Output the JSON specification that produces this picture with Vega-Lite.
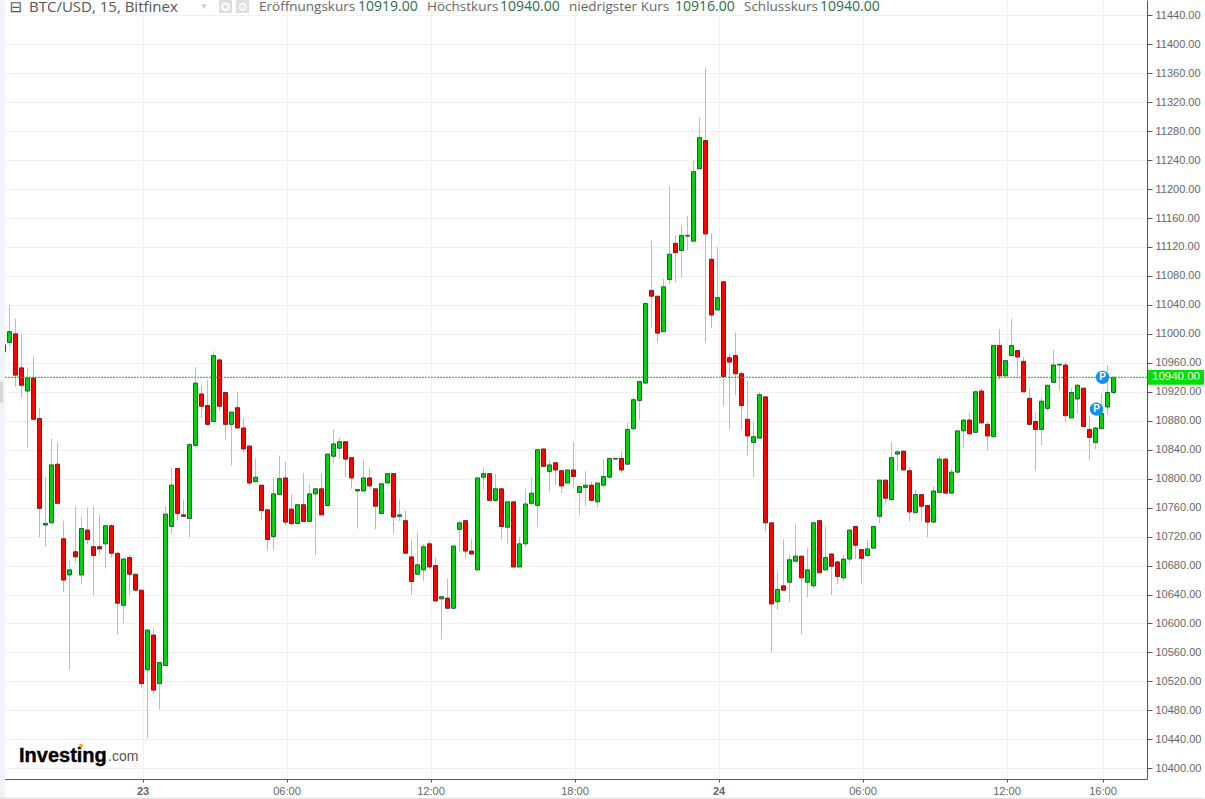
{
"$schema":"https://vega.github.io/schema/vega-lite/v6.json",
"width":1147,"height":779,"autosize":{"type":"none"},"padding":{"left":0,"top":0,"right":58,"bottom":20},"background":"#ffffff",
"config":{"view":{"stroke":null},"font":"Liberation Sans","scale":{"continuousPadding":0}},
"data":{"values":[{}]},
"datasets":{"candles":[
{"t":"2019-06-22T18:15","o":10975,"h":10985,"l":10975,"c":10985},
{"t":"2019-06-22T18:30","o":10988,"h":11040,"l":10982,"c":11003},
{"t":"2019-06-22T18:45","o":11000,"h":11021,"l":10927,"c":10943},
{"t":"2019-06-22T19:00","o":10953,"h":10999,"l":10912,"c":10929},
{"t":"2019-06-22T19:15","o":10921,"h":10953,"l":10842,"c":10939},
{"t":"2019-06-22T19:30","o":10939,"h":10969,"l":10882,"c":10882},
{"t":"2019-06-22T19:45","o":10883,"h":10898,"l":10719,"c":10759},
{"t":"2019-06-22T20:00","o":10736,"h":10803,"l":10706,"c":10738},
{"t":"2019-06-22T20:15","o":10739,"h":10855,"l":10739,"c":10819},
{"t":"2019-06-22T20:30","o":10820,"h":10851,"l":10766,"c":10766},
{"t":"2019-06-22T20:45","o":10717,"h":10742,"l":10644,"c":10660},
{"t":"2019-06-22T21:00","o":10667,"h":10687,"l":10536,"c":10674},
{"t":"2019-06-22T21:15","o":10699,"h":10762,"l":10683,"c":10692},
{"t":"2019-06-22T21:30","o":10667,"h":10748,"l":10654,"c":10731},
{"t":"2019-06-22T21:45","o":10729,"h":10760,"l":10709,"c":10716},
{"t":"2019-06-22T22:00","o":10706,"h":10762,"l":10639,"c":10694},
{"t":"2019-06-22T22:15","o":10706,"h":10750,"l":10695,"c":10703},
{"t":"2019-06-22T22:30","o":10710,"h":10735,"l":10676,"c":10735},
{"t":"2019-06-22T22:45","o":10735,"h":10738,"l":10691,"c":10697},
{"t":"2019-06-22T23:00","o":10697,"h":10697,"l":10585,"c":10628},
{"t":"2019-06-22T23:15","o":10625,"h":10691,"l":10600,"c":10689},
{"t":"2019-06-22T23:30","o":10691,"h":10695,"l":10639,"c":10668},
{"t":"2019-06-22T23:45","o":10668,"h":10668,"l":10644,"c":10646},
{"t":"2019-06-23T00:00","o":10646,"h":10646,"l":10511,"c":10517},
{"t":"2019-06-23T00:15","o":10536,"h":10591,"l":10442,"c":10591},
{"t":"2019-06-23T00:30","o":10584,"h":10593,"l":10502,"c":10508},
{"t":"2019-06-23T00:45","o":10517,"h":10546,"l":10481,"c":10546},
{"t":"2019-06-23T01:00","o":10542,"h":10762,"l":10542,"c":10751},
{"t":"2019-06-23T01:15","o":10734,"h":10815,"l":10724,"c":10791},
{"t":"2019-06-23T01:30","o":10814,"h":10814,"l":10742,"c":10752},
{"t":"2019-06-23T01:45","o":10750,"h":10771,"l":10748,"c":10748},
{"t":"2019-06-23T02:00","o":10745,"h":10849,"l":10719,"c":10847},
{"t":"2019-06-23T02:15","o":10846,"h":10954,"l":10846,"c":10932},
{"t":"2019-06-23T02:30","o":10917,"h":10929,"l":10884,"c":10900},
{"t":"2019-06-23T02:45","o":10901,"h":10936,"l":10875,"c":10875},
{"t":"2019-06-23T03:00","o":10879,"h":10976,"l":10879,"c":10970},
{"t":"2019-06-23T03:15","o":10964,"h":10966,"l":10893,"c":10900},
{"t":"2019-06-23T03:30","o":10919,"h":10919,"l":10854,"c":10875},
{"t":"2019-06-23T03:45","o":10875,"h":10892,"l":10818,"c":10892},
{"t":"2019-06-23T04:00","o":10898,"h":10920,"l":10870,"c":10870},
{"t":"2019-06-23T04:15","o":10870,"h":10884,"l":10837,"c":10841},
{"t":"2019-06-23T04:30","o":10845,"h":10847,"l":10790,"c":10794},
{"t":"2019-06-23T04:45","o":10796,"h":10828,"l":10796,"c":10802},
{"t":"2019-06-23T05:00","o":10791,"h":10791,"l":10742,"c":10756},
{"t":"2019-06-23T05:15","o":10757,"h":10757,"l":10701,"c":10716},
{"t":"2019-06-23T05:30","o":10720,"h":10802,"l":10701,"c":10779},
{"t":"2019-06-23T05:45","o":10778,"h":10832,"l":10778,"c":10800},
{"t":"2019-06-23T06:00","o":10801,"h":10824,"l":10735,"c":10740},
{"t":"2019-06-23T06:15","o":10758,"h":10778,"l":10735,"c":10738},
{"t":"2019-06-23T06:30","o":10738,"h":10764,"l":10738,"c":10764},
{"t":"2019-06-23T06:45","o":10764,"h":10808,"l":10741,"c":10741},
{"t":"2019-06-23T07:00","o":10741,"h":10793,"l":10741,"c":10779},
{"t":"2019-06-23T07:15","o":10779,"h":10786,"l":10694,"c":10786},
{"t":"2019-06-23T07:30","o":10786,"h":10807,"l":10750,"c":10750},
{"t":"2019-06-23T07:45","o":10763,"h":10834,"l":10763,"c":10834},
{"t":"2019-06-23T08:00","o":10831,"h":10868,"l":10821,"c":10848},
{"t":"2019-06-23T08:15","o":10842,"h":10857,"l":10828,"c":10851},
{"t":"2019-06-23T08:30","o":10851,"h":10851,"l":10802,"c":10827},
{"t":"2019-06-23T08:45","o":10829,"h":10829,"l":10786,"c":10801},
{"t":"2019-06-23T09:00","o":10783,"h":10786,"l":10731,"c":10785},
{"t":"2019-06-23T09:15","o":10783,"h":10826,"l":10783,"c":10801},
{"t":"2019-06-23T09:30","o":10801,"h":10815,"l":10786,"c":10790},
{"t":"2019-06-23T09:45","o":10786,"h":10786,"l":10730,"c":10762},
{"t":"2019-06-23T10:00","o":10752,"h":10793,"l":10752,"c":10793},
{"t":"2019-06-23T10:15","o":10794,"h":10807,"l":10794,"c":10807},
{"t":"2019-06-23T10:30","o":10807,"h":10807,"l":10724,"c":10747},
{"t":"2019-06-23T10:45","o":10748,"h":10771,"l":10741,"c":10750},
{"t":"2019-06-23T11:00","o":10742,"h":10756,"l":10697,"c":10697},
{"t":"2019-06-23T11:15","o":10692,"h":10715,"l":10639,"c":10658},
{"t":"2019-06-23T11:30","o":10668,"h":10727,"l":10668,"c":10681},
{"t":"2019-06-23T11:45","o":10674,"h":10710,"l":10659,"c":10706},
{"t":"2019-06-23T12:00","o":10710,"h":10715,"l":10675,"c":10678},
{"t":"2019-06-23T12:15","o":10680,"h":10691,"l":10631,"c":10631},
{"t":"2019-06-23T12:30","o":10634,"h":10637,"l":10578,"c":10637},
{"t":"2019-06-23T12:45","o":10635,"h":10662,"l":10621,"c":10621},
{"t":"2019-06-23T13:00","o":10621,"h":10707,"l":10621,"c":10707},
{"t":"2019-06-23T13:15","o":10730,"h":10742,"l":10699,"c":10739},
{"t":"2019-06-23T13:30","o":10742,"h":10742,"l":10690,"c":10700},
{"t":"2019-06-23T13:45","o":10700,"h":10717,"l":10694,"c":10696},
{"t":"2019-06-23T14:00","o":10674,"h":10801,"l":10674,"c":10801},
{"t":"2019-06-23T14:15","o":10802,"h":10815,"l":10785,"c":10807},
{"t":"2019-06-23T14:30","o":10807,"h":10807,"l":10770,"c":10770},
{"t":"2019-06-23T14:45","o":10770,"h":10807,"l":10768,"c":10786},
{"t":"2019-06-23T15:00","o":10786,"h":10788,"l":10715,"c":10734},
{"t":"2019-06-23T15:15","o":10733,"h":10768,"l":10710,"c":10768},
{"t":"2019-06-23T15:30","o":10768,"h":10768,"l":10678,"c":10678},
{"t":"2019-06-23T15:45","o":10678,"h":10720,"l":10678,"c":10710},
{"t":"2019-06-23T16:00","o":10710,"h":10786,"l":10706,"c":10765},
{"t":"2019-06-23T16:15","o":10766,"h":10802,"l":10763,"c":10780},
{"t":"2019-06-23T16:30","o":10763,"h":10840,"l":10733,"c":10840},
{"t":"2019-06-23T16:45","o":10841,"h":10841,"l":10817,"c":10817},
{"t":"2019-06-23T17:00","o":10810,"h":10826,"l":10782,"c":10819},
{"t":"2019-06-23T17:15","o":10822,"h":10822,"l":10791,"c":10812},
{"t":"2019-06-23T17:30","o":10811,"h":10812,"l":10780,"c":10790},
{"t":"2019-06-23T17:45","o":10794,"h":10812,"l":10794,"c":10812},
{"t":"2019-06-23T18:00","o":10812,"h":10851,"l":10786,"c":10803},
{"t":"2019-06-23T18:15","o":10781,"h":10789,"l":10749,"c":10789},
{"t":"2019-06-23T18:30","o":10788,"h":10811,"l":10762,"c":10791},
{"t":"2019-06-23T18:45","o":10791,"h":10796,"l":10770,"c":10770},
{"t":"2019-06-23T19:00","o":10768,"h":10794,"l":10760,"c":10794},
{"t":"2019-06-23T19:15","o":10791,"h":10827,"l":10788,"c":10803},
{"t":"2019-06-23T19:30","o":10802,"h":10828,"l":10800,"c":10828},
{"t":"2019-06-23T19:45","o":10827,"h":10828,"l":10827,"c":10828},
{"t":"2019-06-23T20:00","o":10828,"h":10838,"l":10808,"c":10812},
{"t":"2019-06-23T20:15","o":10820,"h":10878,"l":10820,"c":10868},
{"t":"2019-06-23T20:30","o":10869,"h":10912,"l":10867,"c":10909},
{"t":"2019-06-23T20:45","o":10908,"h":10934,"l":10881,"c":10934},
{"t":"2019-06-23T21:00","o":10932,"h":11042,"l":10932,"c":11042},
{"t":"2019-06-23T21:15","o":11060,"h":11129,"l":11009,"c":11052},
{"t":"2019-06-23T21:30","o":11052,"h":11052,"l":10988,"c":11001},
{"t":"2019-06-23T21:45","o":11003,"h":11076,"l":11003,"c":11065},
{"t":"2019-06-23T22:00","o":11075,"h":11205,"l":11069,"c":11110},
{"t":"2019-06-23T22:15","o":11125,"h":11136,"l":11071,"c":11112},
{"t":"2019-06-23T22:30","o":11115,"h":11150,"l":11078,"c":11136},
{"t":"2019-06-23T22:45","o":11135,"h":11163,"l":11115,"c":11136},
{"t":"2019-06-23T23:00","o":11128,"h":11239,"l":11128,"c":11224},
{"t":"2019-06-23T23:15","o":11228,"h":11299,"l":11228,"c":11271},
{"t":"2019-06-23T23:30","o":11267,"h":11368,"l":10988,"c":11138},
{"t":"2019-06-23T23:45","o":11103,"h":11139,"l":11008,"c":11026},
{"t":"2019-06-24T00:00","o":11033,"h":11120,"l":11033,"c":11050},
{"t":"2019-06-24T00:15","o":11072,"h":11072,"l":10900,"c":10941},
{"t":"2019-06-24T00:30","o":10967,"h":10973,"l":10868,"c":10961},
{"t":"2019-06-24T00:45","o":10970,"h":11002,"l":10915,"c":10945},
{"t":"2019-06-24T01:00","o":10945,"h":10948,"l":10867,"c":10901},
{"t":"2019-06-24T01:15","o":10882,"h":10935,"l":10832,"c":10859},
{"t":"2019-06-24T01:30","o":10850,"h":10879,"l":10802,"c":10858},
{"t":"2019-06-24T01:45","o":10856,"h":10920,"l":10856,"c":10916},
{"t":"2019-06-24T02:00","o":10913,"h":10913,"l":10727,"c":10739},
{"t":"2019-06-24T02:15","o":10739,"h":10739,"l":10560,"c":10627},
{"t":"2019-06-24T02:30","o":10630,"h":10672,"l":10619,"c":10647},
{"t":"2019-06-24T02:45","o":10652,"h":10716,"l":10646,"c":10646},
{"t":"2019-06-24T03:00","o":10657,"h":10695,"l":10630,"c":10688},
{"t":"2019-06-24T03:15","o":10686,"h":10737,"l":10684,"c":10693},
{"t":"2019-06-24T03:30","o":10693,"h":10693,"l":10585,"c":10663},
{"t":"2019-06-24T03:45","o":10657,"h":10705,"l":10636,"c":10674},
{"t":"2019-06-24T04:00","o":10652,"h":10741,"l":10648,"c":10739},
{"t":"2019-06-24T04:15","o":10742,"h":10742,"l":10670,"c":10670},
{"t":"2019-06-24T04:30","o":10674,"h":10734,"l":10674,"c":10691},
{"t":"2019-06-24T04:45","o":10696,"h":10696,"l":10639,"c":10679},
{"t":"2019-06-24T05:00","o":10685,"h":10687,"l":10654,"c":10665},
{"t":"2019-06-24T05:15","o":10663,"h":10695,"l":10659,"c":10689},
{"t":"2019-06-24T05:30","o":10689,"h":10729,"l":10683,"c":10729},
{"t":"2019-06-24T05:45","o":10734,"h":10734,"l":10689,"c":10708},
{"t":"2019-06-24T06:00","o":10702,"h":10702,"l":10655,"c":10690},
{"t":"2019-06-24T06:15","o":10694,"h":10716,"l":10691,"c":10703},
{"t":"2019-06-24T06:30","o":10704,"h":10734,"l":10704,"c":10734},
{"t":"2019-06-24T06:45","o":10748,"h":10798,"l":10738,"c":10798},
{"t":"2019-06-24T07:00","o":10798,"h":10798,"l":10766,"c":10773},
{"t":"2019-06-24T07:15","o":10771,"h":10851,"l":10771,"c":10829},
{"t":"2019-06-24T07:30","o":10834,"h":10839,"l":10810,"c":10837},
{"t":"2019-06-24T07:45","o":10838,"h":10838,"l":10812,"c":10812},
{"t":"2019-06-24T08:00","o":10811,"h":10816,"l":10741,"c":10754},
{"t":"2019-06-24T08:15","o":10753,"h":10785,"l":10753,"c":10778},
{"t":"2019-06-24T08:30","o":10778,"h":10779,"l":10741,"c":10762},
{"t":"2019-06-24T08:45","o":10763,"h":10763,"l":10719,"c":10740},
{"t":"2019-06-24T09:00","o":10740,"h":10789,"l":10740,"c":10783},
{"t":"2019-06-24T09:15","o":10781,"h":10832,"l":10781,"c":10827},
{"t":"2019-06-24T09:30","o":10827,"h":10830,"l":10780,"c":10780},
{"t":"2019-06-24T09:45","o":10780,"h":10814,"l":10780,"c":10809},
{"t":"2019-06-24T10:00","o":10809,"h":10866,"l":10809,"c":10866},
{"t":"2019-06-24T10:15","o":10866,"h":10881,"l":10843,"c":10881},
{"t":"2019-06-24T10:30","o":10881,"h":10891,"l":10860,"c":10862},
{"t":"2019-06-24T10:45","o":10864,"h":10920,"l":10864,"c":10920},
{"t":"2019-06-24T11:00","o":10921,"h":10925,"l":10877,"c":10877},
{"t":"2019-06-24T11:15","o":10875,"h":10879,"l":10839,"c":10859},
{"t":"2019-06-24T11:30","o":10858,"h":10984,"l":10858,"c":10984},
{"t":"2019-06-24T11:45","o":10984,"h":11007,"l":10936,"c":10942},
{"t":"2019-06-24T12:00","o":10942,"h":10965,"l":10942,"c":10963},
{"t":"2019-06-24T12:15","o":10970,"h":11021,"l":10970,"c":10984},
{"t":"2019-06-24T12:30","o":10977,"h":10977,"l":10940,"c":10968},
{"t":"2019-06-24T12:45","o":10962,"h":10968,"l":10920,"c":10920},
{"t":"2019-06-24T13:00","o":10911,"h":10926,"l":10875,"c":10875},
{"t":"2019-06-24T13:15","o":10879,"h":10892,"l":10811,"c":10868},
{"t":"2019-06-24T13:30","o":10868,"h":10914,"l":10846,"c":10907},
{"t":"2019-06-24T13:45","o":10897,"h":10929,"l":10893,"c":10929},
{"t":"2019-06-24T14:00","o":10933,"h":10978,"l":10933,"c":10957},
{"t":"2019-06-24T14:15","o":10957,"h":10958,"l":10922,"c":10958},
{"t":"2019-06-24T14:30","o":10957,"h":10961,"l":10878,"c":10887},
{"t":"2019-06-24T14:45","o":10884,"h":10925,"l":10884,"c":10919},
{"t":"2019-06-24T15:00","o":10910,"h":10931,"l":10889,"c":10929},
{"t":"2019-06-24T15:15","o":10925,"h":10925,"l":10872,"c":10872},
{"t":"2019-06-24T15:30","o":10868,"h":10887,"l":10826,"c":10857},
{"t":"2019-06-24T15:45","o":10850,"h":10872,"l":10841,"c":10870},
{"t":"2019-06-24T16:00","o":10869,"h":10918,"l":10869,"c":10890},
{"t":"2019-06-24T16:15","o":10899,"h":10957,"l":10888,"c":10919},
{"t":"2019-06-24T16:30","o":10919,"h":10940,"l":10916,"c":10940}
],"pins":[{"t":"2019-06-24T16:00","p":10940,"m":"P"},{"t":"2019-06-24T15:45","p":10896,"m":"P"}]},
"layer":[
{"data":{"name":"candles"},"mark":{"type":"rule","strokeWidth":1,"xOffset":-1},
 "encoding":{"x":{"field":"t","type":"temporal","scale":{"domain":["2019-06-22T18:03:45","2019-06-24T17:51:15"],"nice":false},"title":null,
  "axis":{"orient":"bottom","tickCount":100,"values":[{"year":2019,"month":6,"date":23,"hours":0},{"year":2019,"month":6,"date":23,"hours":6},{"year":2019,"month":6,"date":23,"hours":12},{"year":2019,"month":6,"date":23,"hours":18},{"year":2019,"month":6,"date":24,"hours":0},{"year":2019,"month":6,"date":24,"hours":6},{"year":2019,"month":6,"date":24,"hours":12},{"year":2019,"month":6,"date":24,"hours":16}],
   "labelExpr":"hours(datum.value)==0 ? timeFormat(datum.value,'%d') : timeFormat(datum.value,'%H:%M')",
   "labelFontWeight":{"condition":{"test":"hours(datum.value)==0","value":"bold"},"value":"normal"},
   "grid":true,"gridColor":"#f1f1f1","gridWidth":1,"domainColor":"#555555","tickColor":"#555555","tickSize":3,"labelColor":"#666666","labelFontSize":11,"labelFont":"Liberation Sans","labelPadding":3,"title":null,"labelOverlap":false}},
  "y":{"field":"l","type":"quantitative","scale":{"domain":[10385.2,11461.1],"nice":false,"zero":false},"title":null,
  "axis":{"orient":"right","tickCount":100,"values":[10400,10440,10480,10520,10560,10600,10640,10680,10720,10760,10800,10840,10880,10920,10960,11000,11040,11080,11120,11160,11200,11240,11280,11320,11360,11400,11440],"format":".2f","grid":true,"gridColor":"#f1f1f1","gridWidth":1,"domainColor":"#555555","tickColor":"#555555","tickSize":5,"labelColor":"#666666","labelFontSize":11,"labelFont":"Liberation Sans","labelPadding":3,"title":null,"labelOverlap":false}},
  "y2":{"field":"h"},
  "color":{"condition":{"test":"datum.c>=datum.o","value":"#a9c7cb"},"value":"#e9a6b2"}}},
{"data":{"name":"candles"},"mark":{"type":"bar","orient":"vertical","size":4,"strokeWidth":1,"xOffset":-1},
 "encoding":{"x":{"field":"t","type":"temporal","scale":{"domain":["2019-06-22T18:03:45","2019-06-24T17:51:15"],"nice":false}},"y":{"field":"o","type":"quantitative","scale":{"domain":[10385.2,11461.1],"nice":false,"zero":false}},"y2":{"field":"c"},
  "fill":{"condition":{"test":"datum.c>=datum.o","value":"#00d30b"},"value":"#ff0000"},
  "stroke":{"condition":{"test":"datum.c>=datum.o","value":"#215a3c"},"value":"#6e1f1f"}}},
{"mark":{"type":"rule","color":"#14b814","strokeWidth":1,"strokeDash":[2,1]},"encoding":{"y":{"datum":10940,"scale":{"domain":[10385.2,11461.1],"nice":false,"zero":false}}}},
{"data":{"name":"pins"},"mark":{"type":"point","filled":true,"shape":"circle","size":177,"color":"#0d91f5","opacity":1},
 "encoding":{"x":{"field":"t","type":"temporal","scale":{"domain":["2019-06-22T18:03:45","2019-06-24T17:51:15"],"nice":false}},"y":{"field":"p","type":"quantitative","scale":{"domain":[10385.2,11461.1],"nice":false,"zero":false}}}},
{"data":{"name":"pins"},"mark":{"type":"text","color":"#ffffff","fontWeight":"bold","fontSize":10,"font":"Liberation Sans"},
 "encoding":{"x":{"field":"t","type":"temporal","scale":{"domain":["2019-06-22T18:03:45","2019-06-24T17:51:15"],"nice":false}},"y":{"field":"p","type":"quantitative","scale":{"domain":[10385.2,11461.1],"nice":false,"zero":false}},"text":{"field":"m"}}},
{"mark":{"type":"rect","color":"#00e000"},"encoding":{"x":{"datum":{"year":2019,"month":6,"date":24,"hours":17,"minutes":53,"seconds":45},"type":"temporal","scale":{"domain":["2019-06-22T18:03:45","2019-06-24T17:51:15"],"nice":false}},"x2":{"datum":{"year":2019,"month":6,"date":24,"hours":20,"minutes":13,"seconds":45}},"y":{"datum":10950,"scale":{"domain":[10385.2,11461.1],"nice":false,"zero":false}},"y2":{"datum":10929.6}}},
{"mark":{"type":"text","color":"#ffffff","fontSize":11.5,"font":"Liberation Sans"},"encoding":{"x":{"datum":{"year":2019,"month":6,"date":24,"hours":19,"minutes":3,"seconds":45},"type":"temporal","scale":{"domain":["2019-06-22T18:03:45","2019-06-24T17:51:15"],"nice":false}},"y":{"datum":10940,"scale":{"domain":[10385.2,11461.1],"nice":false,"zero":false}},"text":{"value":"10940.00"}}},
{"mark":{"type":"rect","color":"#f0f3fa"},"encoding":{"x":{"datum":{"year":2019,"month":6,"date":22,"hours":18,"minutes":3,"seconds":45},"type":"temporal","scale":{"domain":["2019-06-22T18:03:45","2019-06-24T17:51:15"],"nice":false}},"x2":{"datum":{"year":2019,"month":6,"date":22,"hours":18,"minutes":16,"seconds":15}},"y":{"datum":11461,"scale":{"domain":[10385.2,11461.1],"nice":false,"zero":false}},"y2":{"datum":10357}}},
{"mark":{"type":"rule","color":"#dddddd","strokeWidth":1},"encoding":{"x":{"datum":{"year":2019,"month":6,"date":22,"hours":18,"minutes":3,"seconds":45},"type":"temporal","scale":{"domain":["2019-06-22T18:03:45","2019-06-24T17:51:15"],"nice":false}},"x2":{"datum":{"year":2019,"month":6,"date":24,"hours":20,"minutes":13,"seconds":45}},"y":{"datum":10358.5,"scale":{"domain":[10385.2,11461.1],"nice":false,"zero":false}}}},
{"mark":{"type":"rule","color":"#d5d5d5","strokeWidth":3},"encoding":{"x":{"datum":{"year":2019,"month":6,"date":22,"hours":18,"minutes":7,"seconds":30},"type":"temporal","scale":{"domain":["2019-06-22T18:03:45","2019-06-24T17:51:15"],"nice":false}},"y":{"datum":10934,"scale":{"domain":[10385.2,11461.1],"nice":false,"zero":false}},"y2":{"datum":10905}}},
{"mark":{"type":"text","align":"center","color":"#555555","fontSize":15,"font":"DejaVu Sans"},"encoding":{"x":{"datum":{"year":2019,"month":6,"date":22,"hours":18,"minutes":43,"seconds":45},"type":"temporal","scale":{"domain":["2019-06-22T18:03:45","2019-06-24T17:51:15"],"nice":false}},"y":{"datum":11451,"scale":{"domain":[10385.2,11461.1],"nice":false,"zero":false}},"text":{"value":"⊟"}}},
{"mark":{"type":"text","align":"left","color":"#555555","fontSize":15,"font":"Open Sans","letterSpacing":1.3},"encoding":{"x":{"datum":{"year":2019,"month":6,"date":22,"hours":19,"minutes":16,"seconds":15},"type":"temporal","scale":{"domain":["2019-06-22T18:03:45","2019-06-24T17:51:15"],"nice":false}},"y":{"datum":11451,"scale":{"domain":[10385.2,11461.1],"nice":false,"zero":false}},"text":{"value":"BTC/USD, 15, Bitfinex"}}},
{"mark":{"type":"point","shape":"triangle-down","filled":true,"color":"#cccccc","size":30,"opacity":1},"encoding":{"x":{"datum":{"year":2019,"month":6,"date":23,"hours":2,"minutes":33,"seconds":45},"type":"temporal","scale":{"domain":["2019-06-22T18:03:45","2019-06-24T17:51:15"],"nice":false}},"y":{"datum":11452,"scale":{"domain":[10385.2,11461.1],"nice":false,"zero":false}}}},
{"mark":{"type":"point","shape":"square","filled":true,"color":"#dddddd","size":169,"opacity":1},"encoding":{"x":{"datum":{"year":2019,"month":6,"date":23,"hours":3,"minutes":27,"seconds":30},"type":"temporal","scale":{"domain":["2019-06-22T18:03:45","2019-06-24T17:51:15"],"nice":false}},"y":{"datum":11452,"scale":{"domain":[10385.2,11461.1],"nice":false,"zero":false}}}},
{"mark":{"type":"point","shape":"square","filled":true,"color":"#dddddd","size":169,"opacity":1},"encoding":{"x":{"datum":{"year":2019,"month":6,"date":23,"hours":4,"minutes":10},"type":"temporal","scale":{"domain":["2019-06-22T18:03:45","2019-06-24T17:51:15"],"nice":false}},"y":{"datum":11452,"scale":{"domain":[10385.2,11461.1],"nice":false,"zero":false}}}},
{"mark":{"type":"point","shape":"circle","filled":false,"color":"#ffffff","size":45,"strokeWidth":2,"opacity":1},"encoding":{"x":{"datum":{"year":2019,"month":6,"date":23,"hours":3,"minutes":27,"seconds":30},"type":"temporal","scale":{"domain":["2019-06-22T18:03:45","2019-06-24T17:51:15"],"nice":false}},"y":{"datum":11452,"scale":{"domain":[10385.2,11461.1],"nice":false,"zero":false}}}},
{"mark":{"type":"text","color":"#ffffff","fontSize":12,"font":"DejaVu Sans"},"encoding":{"x":{"datum":{"year":2019,"month":6,"date":23,"hours":4,"minutes":10},"type":"temporal","scale":{"domain":["2019-06-22T18:03:45","2019-06-24T17:51:15"],"nice":false}},"y":{"datum":11452,"scale":{"domain":[10385.2,11461.1],"nice":false,"zero":false}},"text":{"value":"⚙"}}},
{"mark":{"type":"text","align":"left","color":"#666666","fontSize":13.5,"font":"Open Sans"},"encoding":{"x":{"datum":{"year":2019,"month":6,"date":23,"hours":4,"minutes":51,"seconds":15},"type":"temporal","scale":{"domain":["2019-06-22T18:03:45","2019-06-24T17:51:15"],"nice":false}},"y":{"datum":11451,"scale":{"domain":[10385.2,11461.1],"nice":false,"zero":false}},"text":{"value":"Eröffnungskurs"}}},
{"mark":{"type":"text","align":"left","color":"#2a6b4c","fontSize":14,"font":"Open Sans"},"encoding":{"x":{"datum":{"year":2019,"month":6,"date":23,"hours":8,"minutes":58,"seconds":45},"type":"temporal","scale":{"domain":["2019-06-22T18:03:45","2019-06-24T17:51:15"],"nice":false}},"y":{"datum":11451,"scale":{"domain":[10385.2,11461.1],"nice":false,"zero":false}},"text":{"value":"10919.00"}}},
{"mark":{"type":"text","align":"left","color":"#666666","fontSize":13.5,"font":"Open Sans"},"encoding":{"x":{"datum":{"year":2019,"month":6,"date":23,"hours":11,"minutes":51,"seconds":15},"type":"temporal","scale":{"domain":["2019-06-22T18:03:45","2019-06-24T17:51:15"],"nice":false}},"y":{"datum":11451,"scale":{"domain":[10385.2,11461.1],"nice":false,"zero":false}},"text":{"value":"Höchstkurs"}}},
{"mark":{"type":"text","align":"left","color":"#2a6b4c","fontSize":14,"font":"Open Sans"},"encoding":{"x":{"datum":{"year":2019,"month":6,"date":23,"hours":14,"minutes":53,"seconds":45},"type":"temporal","scale":{"domain":["2019-06-22T18:03:45","2019-06-24T17:51:15"],"nice":false}},"y":{"datum":11451,"scale":{"domain":[10385.2,11461.1],"nice":false,"zero":false}},"text":{"value":"10940.00"}}},
{"mark":{"type":"text","align":"left","color":"#666666","fontSize":13.5,"font":"Open Sans"},"encoding":{"x":{"datum":{"year":2019,"month":6,"date":23,"hours":17,"minutes":46,"seconds":15},"type":"temporal","scale":{"domain":["2019-06-22T18:03:45","2019-06-24T17:51:15"],"nice":false}},"y":{"datum":11451,"scale":{"domain":[10385.2,11461.1],"nice":false,"zero":false}},"text":{"value":"niedrigster Kurs"}}},
{"mark":{"type":"text","align":"left","color":"#2a6b4c","fontSize":14,"font":"Open Sans"},"encoding":{"x":{"datum":{"year":2019,"month":6,"date":23,"hours":22,"minutes":11,"seconds":15},"type":"temporal","scale":{"domain":["2019-06-22T18:03:45","2019-06-24T17:51:15"],"nice":false}},"y":{"datum":11451,"scale":{"domain":[10385.2,11461.1],"nice":false,"zero":false}},"text":{"value":"10916.00"}}},
{"mark":{"type":"text","align":"left","color":"#666666","fontSize":13.5,"font":"Open Sans"},"encoding":{"x":{"datum":{"year":2019,"month":6,"date":24,"hours":1,"minutes":3,"seconds":45},"type":"temporal","scale":{"domain":["2019-06-22T18:03:45","2019-06-24T17:51:15"],"nice":false}},"y":{"datum":11451,"scale":{"domain":[10385.2,11461.1],"nice":false,"zero":false}},"text":{"value":"Schlusskurs"}}},
{"mark":{"type":"text","align":"left","color":"#2a6b4c","fontSize":14,"font":"Open Sans"},"encoding":{"x":{"datum":{"year":2019,"month":6,"date":24,"hours":4,"minutes":13,"seconds":45},"type":"temporal","scale":{"domain":["2019-06-22T18:03:45","2019-06-24T17:51:15"],"nice":false}},"y":{"datum":11451,"scale":{"domain":[10385.2,11461.1],"nice":false,"zero":false}},"text":{"value":"10940.00"}}},
{"mark":{"type":"text","align":"left","color":"#000000","stroke":"#000000","strokeWidth":0.4,"fontSize":20,"fontWeight":"bold","font":"Liberation Sans"},"encoding":{"x":{"datum":{"year":2019,"month":6,"date":22,"hours":18,"minutes":51,"seconds":15},"type":"temporal","scale":{"domain":["2019-06-22T18:03:45","2019-06-24T17:51:15"],"nice":false}},"y":{"datum":10417,"scale":{"domain":[10385.2,11461.1],"nice":false,"zero":false}},"text":{"value":"Investing"}}},
{"mark":{"type":"text","align":"left","color":"#555555","fontSize":14,"font":"Liberation Sans"},"encoding":{"x":{"datum":{"year":2019,"month":6,"date":22,"hours":22,"minutes":33,"seconds":45},"type":"temporal","scale":{"domain":["2019-06-22T18:03:45","2019-06-24T17:51:15"],"nice":false}},"y":{"datum":10415,"scale":{"domain":[10385.2,11461.1],"nice":false,"zero":false}},"text":{"value":".com"}}},
{"mark":{"type":"point","shape":"circle","filled":true,"color":"#f5a623","size":16,"opacity":1},"encoding":{"x":{"datum":{"year":2019,"month":6,"date":22,"hours":21,"minutes":26,"seconds":15},"type":"temporal","scale":{"domain":["2019-06-22T18:03:45","2019-06-24T17:51:15"],"nice":false}},"y":{"datum":10431,"scale":{"domain":[10385.2,11461.1],"nice":false,"zero":false}}}}
]
}
